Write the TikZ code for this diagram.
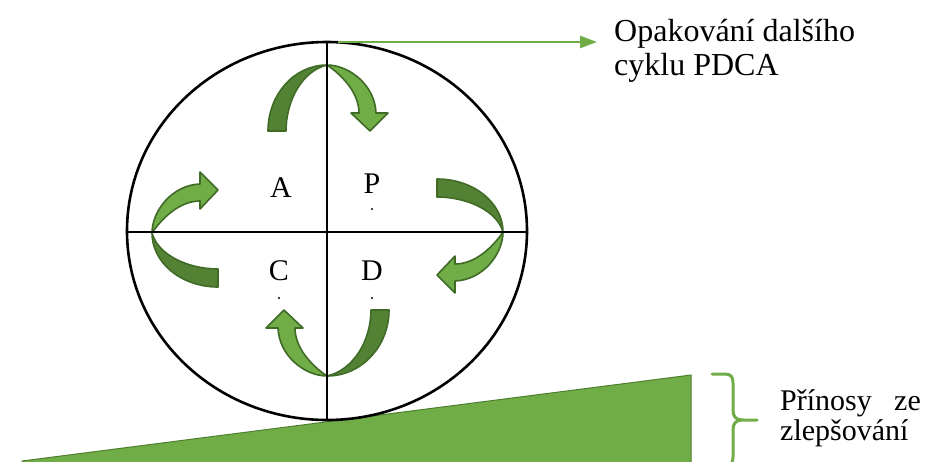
\documentclass[tikz,border=0pt]{standalone}
\usepackage{fontspec}
\setmainfont{Liberation Serif}
\usetikzlibrary{arrows.meta}
\definecolor{lightgreen}{HTML}{70AD47}
\definecolor{darkgreen}{HTML}{548235}
\definecolor{edgegreen}{HTML}{3F6B26}
\definecolor{triedge}{HTML}{4E7E30}
\tikzset{
  blackline/.style={line width=2.6pt, black},
  darkface/.style={fill=darkgreen, draw=edgegreen, line width=1.6pt, line join=round},
  lightface/.style={fill=lightgreen, draw=edgegreen, line width=1.6pt, line join=round},
  bigtext/.style={font=\fontsize{32}{34}\selectfont, inner sep=0pt},
  smalltext/.style={font=\fontsize{30}{32}\selectfont, inner sep=0pt},
  lettertext/.style={font=\fontsize{30}{32}\selectfont, inner sep=0pt},
  greenline/.style={lightgreen, line width=2.6pt},
  pics/cycarrow/.style={code={
    \path[darkface] ({-#1},0) .. controls ({-#1},-36.5) and ({-0.553*#1},-66) .. (0,-66)
       .. controls ({-0.61*(#1-18)},-60) and ({-(#1-18)},-30) .. ({-(#1-18)},0) -- cycle;
    \path[lightface] (0,-66) .. controls (22,-66) and (48,-46) .. (49,-18)
       -- (61,-18) -- (43,0) -- (24,-18) -- (32,-18)
       .. controls (32,-40) and (12,-58) .. (0,-66) -- cycle;
  }}
}
\begin{document}
\begin{tikzpicture}[x=1pt,y=-1pt]
\clip (0,0) rectangle (932,461);
% ground wedge
\path[fill=lightgreen, draw=triedge, line width=1pt] (22,461) coordinate (w1) -- (691,375) coordinate (w2) -- (691,470) coordinate (w3) -- (22,470) -- cycle;
% cycle arrows
\pic (arrP) at (327,131) {cycarrow=59};
\pic[rotate=-90] (arrD) at (437,232) {cycarrow=53};
\pic[rotate=180] (arrC) at (327,310) {cycarrow=62};
\pic[rotate=90] (arrA) at (218,233) {cycarrow=54};
% circle and axes
\draw[blackline] (327,231) ellipse [x radius=200, y radius=189];
\coordinate (vtop) at (327,42);
\coordinate (vbot) at (327,420);
\coordinate (hl) at (127,232);
\coordinate (hr) at (527,232);
\draw[blackline] (vtop) -- (vbot);
\draw[blackline] (hl) -- (hr);
% letters
\node[lettertext] (A) at (281,188) {A};
\node[lettertext] (P) at (372,184) {P};
\node[lettertext] (C) at (279,271) {C};
\node[lettertext] (D) at (372,271) {D};
\fill (372,209) circle (1.2);
\fill (279,298) circle (1.2);
\fill (372,298) circle (1.2);
% top arrow and text
\coordinate (arrstart) at (338,42);
\node[bigtext, anchor=base west] (opak1) at (614,41) {Opakování dalšího};
\node[bigtext, anchor=base west] (opak2) at (614,75) {cyklu PDCA};
\coordinate (arrend) at (597,42);
\draw[greenline, -{Triangle[length=17pt,width=12pt]}] (arrstart) -- (arrend);
% brace
\draw[greenline, line width=3pt, line cap=round]
  (712,374) -- (725,374) .. controls (731,374) and (733,377) .. (733,383)
  -- (733,410) .. controls (733,417) and (736,420) .. (743,420) -- (757,420)
  (743,420) .. controls (736,420) and (733,423) .. (733,430)
  -- (733,457) .. controls (733,463) and (731,466) .. (725,466) -- (712,466);
\node[smalltext, anchor=base west] (prin1) at (780,410) {Přínosy};
\node[smalltext, anchor=base west] (prin2) at (894,410) {ze};
\node[smalltext, anchor=base west] (prin3) at (780,440) {zlepšování};
\end{tikzpicture}
\end{document}
